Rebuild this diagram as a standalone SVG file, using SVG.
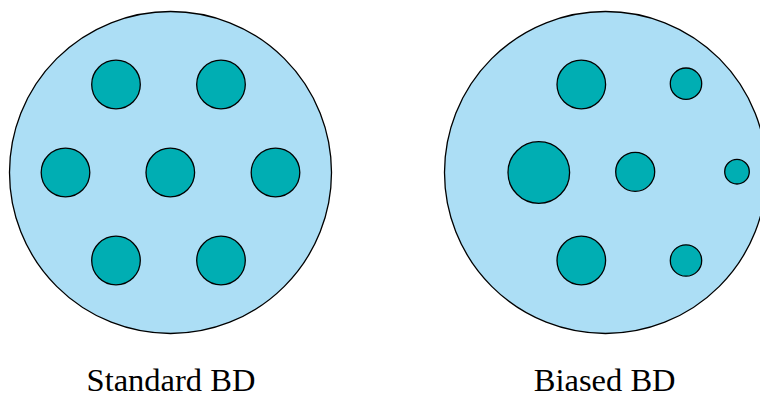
<svg xmlns="http://www.w3.org/2000/svg" width="760" height="396" viewBox="0 0 760 396">
  <style>
    .cell { fill: #acdef5; stroke: #000; stroke-width: 1.3; }
    .bead { fill: #00aeb3; stroke: #000; stroke-width: 1.3; }
  </style>
  <rect width="760" height="396" fill="#fff"/>

  <!-- Standard BD: seven equal beads -->
  <g id="standard">
    <circle class="cell" cx="170.5" cy="172.5" r="161"/>
    <circle class="bead" cx="116" cy="84.5" r="24.3"/>
    <circle class="bead" cx="221" cy="84.5" r="24.3"/>
    <circle class="bead" cx="65.5" cy="172.5" r="24.3"/>
    <circle class="bead" cx="170.3" cy="172.5" r="24.3"/>
    <circle class="bead" cx="275.5" cy="172.5" r="24.3"/>
    <circle class="bead" cx="116" cy="260.5" r="24.3"/>
    <circle class="bead" cx="221" cy="260.5" r="24.3"/>
    <text x="171" y="390.5" font-size="32.5" font-family="Liberation Serif" text-anchor="middle" fill="#000">Standard BD</text>
  </g>

  <!-- Biased BD: beads of varying size -->
  <g id="biased">
    <circle class="cell" cx="605.5" cy="172.5" r="161"/>
    <circle class="bead" cx="581.3" cy="84.5" r="24.3"/>
    <circle class="bead" cx="686" cy="83.7" r="15.7"/>
    <circle class="bead" cx="538.8" cy="172.5" r="30.8"/>
    <circle class="bead" cx="635.2" cy="171.8" r="19.5"/>
    <circle class="bead" cx="737" cy="171.7" r="12.3"/>
    <circle class="bead" cx="581.3" cy="260.5" r="24.3"/>
    <circle class="bead" cx="686" cy="260.5" r="15.7"/>
    <text x="604.7" y="390.5" font-size="32.5" font-family="Liberation Serif" text-anchor="middle" fill="#000">Biased BD</text>
  </g>

  <g id="connectors"/>
</svg>
